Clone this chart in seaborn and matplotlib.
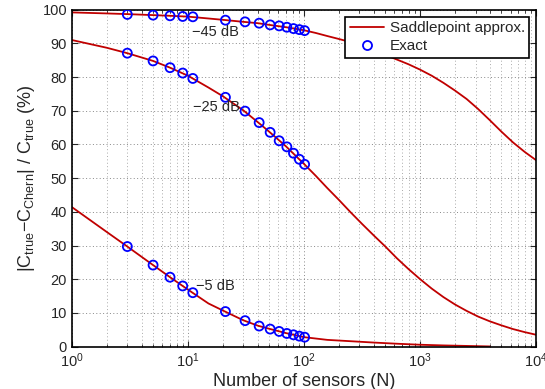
import numpy as np
import pandas as pd
import matplotlib
matplotlib.use("Agg")
import matplotlib.pyplot as plt
import seaborn as sns
from matplotlib.lines import Line2D
from matplotlib.ticker import LogLocator, LogFormatterMathtext, MultipleLocator

# Saddlepoint approximation curves
curve_n = [1, 2, 3, 5, 7, 10, 15, 20, 30, 40, 50, 70, 100,
           126, 158, 200, 251, 316, 398, 501, 631, 794, 1000,
           1259, 1585, 1995, 2512, 3162, 3981, 5012, 6310, 7943, 10000]
curve_45 = [99.2, 98.9, 98.7, 98.4, 98.2, 97.95, 97.4, 97.0, 96.4, 96.0, 95.5, 94.8, 93.9,
            93.1, 92.2, 91.3, 90.4, 89.3, 88.0, 86.6, 85.2, 83.8, 82.2,
            80.4, 78.3, 76.0, 73.5, 70.5, 67.2, 63.8, 60.6, 57.8, 55.3]
curve_25 = [91.0, 88.7, 87.1, 84.8, 82.8, 80.4, 76.9, 74.3, 70.1, 66.6, 63.8, 59.4, 54.2,
            50.7, 47.1, 43.5, 39.9, 36.4, 33.0, 29.7, 26.2, 23.0, 20.0,
            17.2, 14.7, 12.5, 10.6, 8.9, 7.5, 6.3, 5.2, 4.3, 3.5]
curve_n5 = [1, 2, 3, 5, 7, 10, 15, 20, 30, 40, 50, 70, 100,
            158, 251, 398, 631, 1000, 1585, 2512, 3981]
curve_5 = [41.4, 34.0, 29.7, 24.2, 20.6, 16.9, 12.8, 10.7, 7.8, 6.2, 5.3, 4.0, 2.8,
           2.0, 1.6, 1.2, 0.85, 0.55, 0.35, 0.2, 0.05]

# Exact values
exact_n = [3, 5, 7, 9, 11, 21, 31, 41, 51, 61, 71, 81, 91, 101]
exact_45 = [98.6, 98.4, 98.2, 98.0, 97.9, 96.9, 96.4, 96.0, 95.5, 95.2,
            94.8, 94.4, 94.1, 93.8]
exact_25 = [87.1, 84.8, 82.8, 81.2, 79.6, 74.0, 69.9, 66.5, 63.6, 61.1,
            59.3, 57.4, 55.6, 54.1]
exact_5 = [29.7, 24.2, 20.6, 18.0, 16.0, 10.4, 7.7, 6.1, 5.2, 4.5,
           3.9, 3.5, 3.1, 2.8]

snr_labels = ["\u221245 dB", "\u221225 dB", "\u22125 dB"]
label_pos = [(10.8, 93.3), (11.0, 71.0), (11.7, 18.0)]

curves = pd.concat([
    pd.DataFrame({"N": curve_n, "err": curve_45, "snr": snr_labels[0]}),
    pd.DataFrame({"N": curve_n, "err": curve_25, "snr": snr_labels[1]}),
    pd.DataFrame({"N": curve_n5, "err": curve_5, "snr": snr_labels[2]}),
])
exact = pd.concat([
    pd.DataFrame({"N": exact_n, "err": exact_45, "snr": snr_labels[0]}),
    pd.DataFrame({"N": exact_n, "err": exact_25, "snr": snr_labels[1]}),
    pd.DataFrame({"N": exact_n, "err": exact_5, "snr": snr_labels[2]}),
])

sns.set_style("ticks")
plt.rcParams["font.family"] = ["Liberation Sans", "DejaVu Sans"]
plt.rcParams["mathtext.fontset"] = "custom"
plt.rcParams["mathtext.rm"] = "Liberation Sans"
plt.rcParams["mathtext.it"] = "Liberation Sans:italic"
plt.rcParams["mathtext.default"] = "rm"

red = "#c00000"
blue = "#0000ff"

fig = plt.figure(figsize=(5.45, 3.89), dpi=100)
ax = fig.add_axes([0.132, 0.109, 0.852, 0.866])

sns.lineplot(data=curves, x="N", y="err", units="snr", estimator=None,
             color=red, linewidth=1.3, ax=ax, sort=False)
ax.scatter(exact["N"], exact["err"], s=42, facecolors="none",
           edgecolors=blue, linewidths=1.3, zorder=3)

ax.set_xscale("log")
ax.set_xlim(1, 1e4)
ax.set_ylim(0, 100)
ax.xaxis.set_major_locator(LogLocator(base=10))
ax.xaxis.set_major_formatter(LogFormatterMathtext())
ax.xaxis.set_minor_locator(LogLocator(base=10, subs=np.arange(2, 10)))
ax.yaxis.set_major_locator(MultipleLocator(10))

ax.grid(True, which="major", linestyle=(0, (1, 2.5)), color="#888888", linewidth=0.7)
ax.grid(True, which="minor", axis="x", linestyle=(0, (1, 2.5)), color="#aaaaaa", linewidth=0.7)
ax.tick_params(which="both", direction="in", top=True, right=True,
               labelsize=10.5, length=4)
ax.tick_params(which="minor", length=2)
for sp in ax.spines.values():
    sp.set_linewidth(1.2)
    sp.set_color("black")

for txt, (xn, yv) in zip(snr_labels, label_pos):
    ax.text(xn, yv, txt, fontsize=10.5, ha="left", va="center")

ax.set_xlabel("Number of sensors (N)", fontsize=13, labelpad=2)
ax.set_ylabel(r"|C$_{\mathrm{true}}$$-$C$_{\mathrm{Chern}}$| / C$_{\mathrm{true}}$ (%)",
              fontsize=13, labelpad=4)

handles = [Line2D([], [], color=red, linewidth=1.3),
           Line2D([], [], linestyle="none", marker="o", markerfacecolor="none",
                  markeredgecolor=blue, markeredgewidth=1.3, markersize=6.5)]
leg = ax.legend(handles, ["Saddlepoint approx.", "Exact"], loc="upper right",
                fontsize=11, frameon=True, fancybox=False, borderpad=0.3,
                handlelength=2.2, handletextpad=0.4, labelspacing=0.25,
                borderaxespad=0.45)
leg.get_frame().set_edgecolor("black")
leg.get_frame().set_linewidth(1.2)
leg.get_frame().set_alpha(1)

fig.savefig("out.png", dpi=100)
